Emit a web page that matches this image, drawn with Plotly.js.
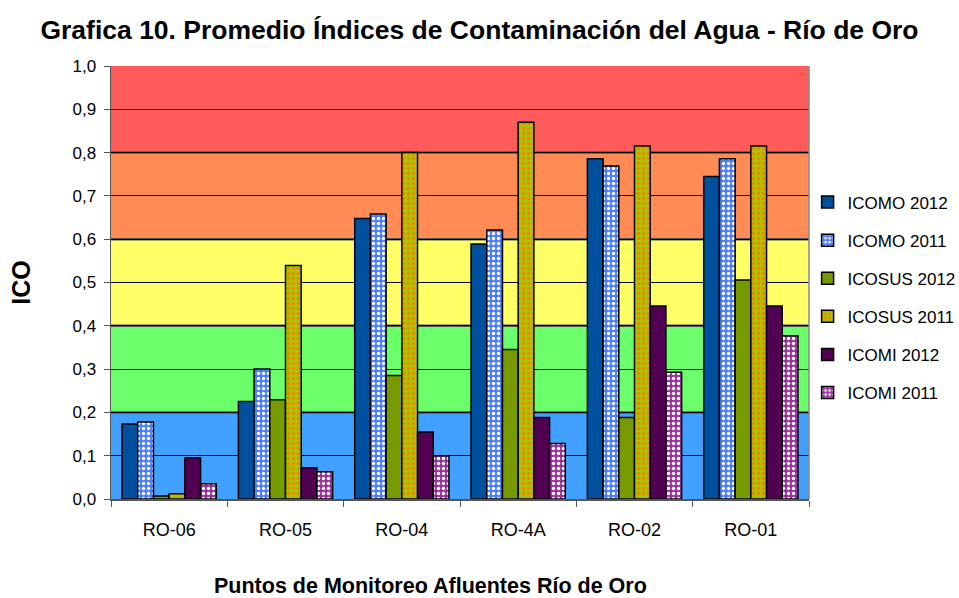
<!DOCTYPE html>
<html>
<head>
<meta charset="utf-8">
<script src="https://cdn.plot.ly/plotly-3.0.1.min.js"></script>
<style>html,body{margin:0;padding:0;background:#fff;}#chart{width:959px;height:598px;}</style>
</head>
<body>
<div id="chart"></div>
<script>
const categories = ["RO-06", "RO-05", "RO-04", "RO-4A", "RO-02", "RO-01"];
const seriesNames = ["ICOMO 2012", "ICOMO 2011", "ICOSUS 2012", "ICOSUS 2011", "ICOMI 2012", "ICOMI 2011"];
const icomo2012 = [0.173, 0.225, 0.648, 0.589, 0.786, 0.745];
const icomo2011 = [0.178, 0.300, 0.658, 0.621, 0.769, 0.786];
const icosus2012 = [0.007, 0.229, 0.285, 0.345, 0.188, 0.506];
const icosus2011 = [0.012, 0.539, 0.800, 0.870, 0.815, 0.815];
const icomi2012 = [0.095, 0.072, 0.155, 0.188, 0.446, 0.446];
const icomi2011 = [0.035, 0.063, 0.100, 0.128, 0.293, 0.377];
const bandEdges = [0, 0.2, 0.4, 0.6, 0.8, 1.0];
const bandColors = ["#42a0ff", "#6bff6b", "#ffff66", "#ff8c55", "#ff5b5b"];

const values = [icomo2012, icomo2011, icosus2012, icosus2011, icomi2012, icomi2011];
const styles = [
  {color: "#00509e", pattern: null},
  {color: "#4a7dff", pattern: {shape: ".", fgcolor: "#ffffff", bgcolor: "#4a7dff", size: 5, solidity: 0.35, fillmode: "replace"}},
  {color: "#779a00", pattern: null},
  {color: "#a9c400", pattern: {shape: ".", fgcolor: "#ff7a00", bgcolor: "#a9c400", size: 5, solidity: 0.3, fillmode: "replace"}},
  {color: "#520052", pattern: null},
  {color: "#993399", pattern: {shape: ".", fgcolor: "#ffffff", bgcolor: "#993399", size: 5, solidity: 0.35, fillmode: "replace"}}
];

const traces = values.map((v, i) => {
  const m = {color: styles[i].color, line: {color: "#000000", width: 1.5}};
  if (styles[i].pattern) m.pattern = styles[i].pattern;
  return {
    type: "bar", x: categories, y: v, name: seriesNames[i],
    legendgroup: "g" + i, marker: m, hoverinfo: "x+y+name"
  };
});

const shapes = bandColors.map((c, i) => ({
  type: "rect", xref: "paper", yref: "y", x0: 0, x1: 1,
  y0: bandEdges[i], y1: bandEdges[i + 1], fillcolor: c,
  line: {width: 0}, layer: "below"
}));
bandEdges.slice(1, -1).forEach(e => shapes.push({
  type: "line", xref: "paper", yref: "y", x0: 0, x1: 1, y0: e, y1: e,
  line: {color: "#555555", width: 2.5}, layer: "below"
}));
shapes.push({
  type: "line", xref: "paper", yref: "paper", x0: 1, x1: 1, y0: 0, y1: 1,
  line: {color: "#888888", width: 1.5}
});

const sans = "Liberation Sans, Arial, sans-serif";

const layout = {
  width: 959, height: 598,
  margin: {l: 111, r: 150, t: 66, b: 99, autoexpand: false},
  paper_bgcolor: "#ffffff", plot_bgcolor: "#ffffff",
  separators: ", ",
  font: {family: sans, color: "#000000", size: 16},
  title: {text: "<b>Grafica 10. Promedio Índices de Contaminación del Agua - Río de Oro</b>",
          x: 0.5, xref: "container", xanchor: "center", y: 0.95, yanchor: "middle",
          font: {size: 26.5, family: sans}},
  barmode: "group", bargap: 0.19, bargroupgap: 0,
  shapes: shapes,
  xaxis: {
    type: "category", tickson: "boundaries", ticks: "outside", ticklen: 6, tickcolor: "#555555",
    showline: true, linecolor: "#555555", linewidth: 1.5, showgrid: false,
    tickfont: {size: 18, family: sans}, ticklabelstandoff: 14
  },
  yaxis: {
    range: [0, 1], dtick: 0.1, tick0: 0, tickformat: ".1f",
    ticks: "outside", ticklen: 6, tickcolor: "#555555",
    showline: true, linecolor: "#555555", linewidth: 1.5,
    showgrid: true, gridcolor: "#000000", gridwidth: 1, zeroline: false,
    tickfont: {size: 17, family: sans}, ticklabelstandoff: 4,
    title: {text: "<b>ICO</b>", font: {size: 25, family: sans}, standoff: 34}
  },
  annotations: [{
    text: "<b>Puntos de Monitoreo Afluentes Río de Oro</b>",
    xref: "paper", yref: "paper", x: (430 - 111) / 698, y: (499 - 586) / 433,
    xanchor: "center", yanchor: "middle", showarrow: false,
    font: {size: 21.5, family: sans}
  }],
  legend: {
    x: 0.998, xanchor: "left", y: (499 - 297.5) / 433, yanchor: "middle",
    font: {size: 17, family: sans}, itemwidth: 30,
    traceorder: "grouped", tracegroupgap: 13, bgcolor: "rgba(0,0,0,0)"
  },
  showlegend: true
};

Plotly.newPlot("chart", traces, layout, {displayModeBar: false, staticPlot: true});
</script>
</body>
</html>
